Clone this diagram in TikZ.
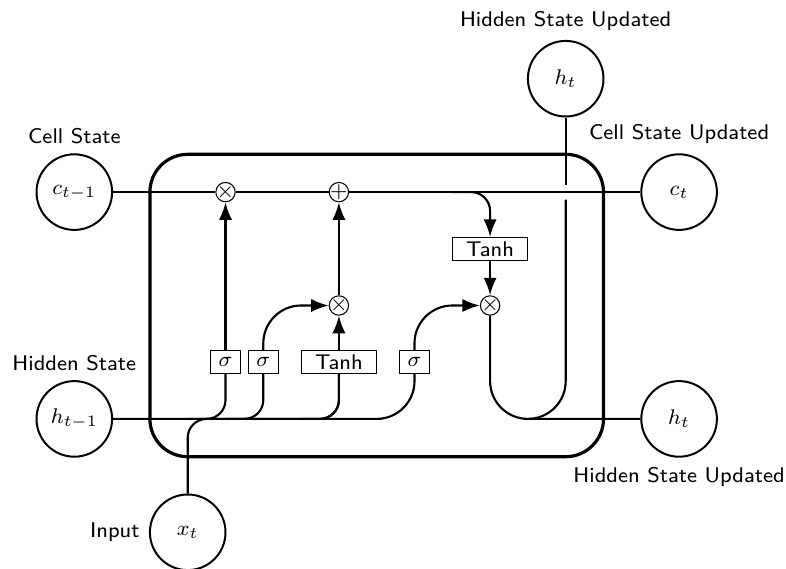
\documentclass[tikz,border=0pt]{standalone}
\usetikzlibrary{arrows.meta}
\begin{document}
\begin{tikzpicture}[
  font=\sffamily\footnotesize,
  >=LaTeX,
  cell/.style={rectangle, rounded corners=5mm, draw, very thick},
  operator/.style={circle, draw, inner sep=-0.5pt, minimum height=.2cm},
  function/.style={rectangle, draw, minimum width=1cm, minimum height=3mm, inner sep=1pt},
  ct/.style={circle, draw, line width=.75pt, minimum width=1cm, inner sep=1pt},
  gt/.style={rectangle, draw, minimum width=4mm, minimum height=3mm, inner sep=1pt},
  mylabel/.style={font=\footnotesize\sffamily},
  ArrowC1/.style={rounded corners=.25cm, thick},
  ArrowC2/.style={rounded corners=.5cm, thick},
]
\useasboundingbox (-4.983,-3.485) rectangle (5.414,4.041);

% cell
\node [cell, minimum height=4cm, minimum width=6cm] (cellbox) at (0,0) {};

% gates
\node [gt] (ibox1) at (-2,-0.75) {$\sigma$};
\node [gt] (ibox2) at (-1.5,-0.75) {$\sigma$};
\node [gt, minimum width=1cm] (ibox3) at (-0.5,-0.75) {Tanh};
\node [gt] (ibox4) at (0.5,-0.75) {$\sigma$};

% operators
\node [operator] (mux1) at (-2,1.5) {$\times$};
\node [operator] (add1) at (-0.5,1.5) {+};
\node [operator] (mux2) at (-0.5,0) {$\times$};
\node [operator] (mux3) at (1.5,0) {$\times$};
\node [function] (func1) at (1.5,0.75) {Tanh};

% inputs
\node [ct, label={[mylabel]Cell State}] (c) at (-4,1.5) {$c_{t-1}$};
\node [ct, label={[mylabel]Hidden State}] (h) at (-4,-1.5) {$h_{t-1}$};
\node [ct, label={[mylabel]left:Input}] (x) at (-2.5,-3) {$x_t$};

% outputs
\node [ct, label={[mylabel]Cell State Updated}] (c2) at (4,1.5) {$c_t$};
\node [ct, label={[mylabel]below:Hidden State Updated}] (h2) at (4,-1.5) {$h_t$};
\node [ct, label={[mylabel]Hidden State Updated}] (x2) at (2.5,3) {$h_t$};

% cell state line
\draw [ArrowC1] (c) -- (mux1) -- (add1) -- (c2);

% inputs into gates
\draw [ArrowC2] (h) -| (ibox4);
\draw [ArrowC1] (h -| ibox1) ++(-0.5,0) -| (ibox1);
\draw [ArrowC1] (h -| ibox2) ++(-0.5,0) -| (ibox2);
\draw [ArrowC1] (h -| ibox3) ++(-0.5,0) -| (ibox3);
\draw [ArrowC1] (x) -- (x |- h) -| (ibox3);

% internal
\draw [->, ArrowC2] (ibox1) -- (mux1);
\draw [->, ArrowC2] (ibox2) |- (mux2);
\draw [->, ArrowC2] (ibox3) -- (mux2);
\draw [->, ArrowC2] (ibox4) |- (mux3);
\draw [->, ArrowC2] (mux2) -- (add1);
\draw [->, ArrowC1] (add1 -| func1) ++(-0.5,0) -| (func1);
\draw [->, ArrowC2] (func1) -- (mux3);

% outputs
\draw [ArrowC2] (mux3) |- (h2);
\path (c2 -| x2) ++(0,-0.1) coordinate (i1);
\draw [ArrowC2] (h2 -| x2) ++(-0.5,0) -| (i1);
\draw [ArrowC2] (i1) ++(0,0.2) -- (x2);
\end{tikzpicture}
\end{document}
